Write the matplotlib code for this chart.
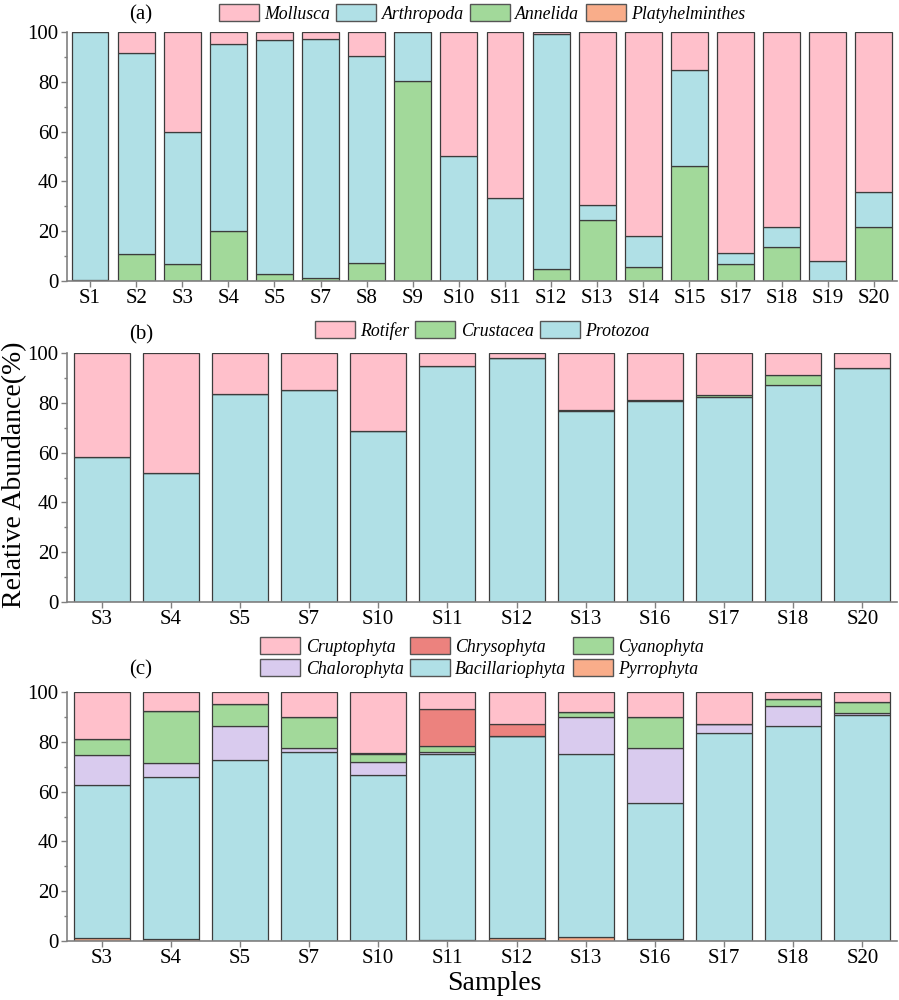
import matplotlib
matplotlib.use("Agg")
import matplotlib.pyplot as plt
import numpy as np
from matplotlib.ticker import MultipleLocator

plt.rcParams['font.family'] = ['Liberation Serif', 'DejaVu Serif']

# ---------------- data ----------------
samples_a = ["S1", "S2", "S3", "S4", "S5", "S7", "S8", "S9", "S10", "S11",
             "S12", "S13", "S14", "S15", "S17", "S18", "S19", "S20"]
platyhelminthes = [0.5, 0, 0, 0, 0, 0, 0, 0, 0, 0, 0, 0, 0, 0, 0, 0, 0, 0]
annelida = [0, 10.7, 6.7, 20.2, 2.7, 1.1, 7.1, 80.2, 0, 0,
            4.8, 24.4, 5.6, 46.3, 6.7, 13.7, 0, 21.6]
arthropoda = [99.5, 80.7, 53.0, 74.8, 94.2, 96.0, 83.4, 19.8, 50.1, 33.5,
              94.4, 6.0, 12.3, 38.3, 4.5, 8.0, 7.9, 14.1]
mollusca = [0, 8.6, 40.3, 5.0, 3.1, 2.9, 9.5, 0, 49.9, 66.5,
            0.8, 69.6, 82.1, 15.4, 88.8, 78.3, 92.1, 64.3]

samples_b = ["S3", "S4", "S5", "S7", "S10", "S11", "S12", "S13", "S16", "S17", "S18", "S20"]
protozoa = [58.1, 51.9, 83.4, 85.0, 68.8, 94.6, 98.1, 76.8, 80.7, 82.5, 87.3, 94.1]
crustacea = [0, 0, 0, 0, 0, 0, 0, 0.2, 0.4, 0.8, 3.9, 0]
rotifer = [41.9, 48.1, 16.6, 15.0, 31.2, 5.4, 1.9, 23.0, 18.9, 16.7, 8.8, 5.9]

samples_c = ["S3", "S4", "S5", "S7", "S10", "S11", "S12", "S13", "S16", "S17", "S18", "S20"]
pyrrophyta = [1.3, 0.7, 0.2, 0, 0, 0.3, 1.1, 1.7, 0.7, 0, 0, 0]
bacillariophyta = [61.2, 65.0, 72.5, 76.1, 66.5, 75.0, 81.2, 73.6, 54.9, 83.4, 86.5, 90.6]
chalorophyta = [12.2, 5.9, 13.5, 1.4, 5.2, 0.8, 0, 14.8, 22.1, 3.7, 8.0, 0.8]
cyanophyta = [6.5, 20.6, 8.8, 12.4, 3.2, 2.1, 0, 1.7, 12.4, 0, 2.7, 4.7]
chrysophyta = [0, 0, 0, 0, 0.7, 14.8, 4.7, 0, 0, 0, 0, 0]
cruptophyta = [18.8, 7.8, 5.0, 10.1, 24.4, 7.0, 13.0, 8.2, 9.9, 12.9, 2.8, 3.9]

# ---------------- style ----------------
PINK = '#FFC0CB'
BLUE = '#B0E0E6'
GREEN = '#A2D99A'
ORANGE = '#F9AD8A'
RED = '#EC827E'
LAV = '#D9CBEE'
EDGE = '#3c3c3c'
SPINE = '#808080'

fig = plt.figure(figsize=(8.99, 10.0), dpi=100)

L, W, H = 67 / 899, 830 / 899, 0.249
ax_a = fig.add_axes([L, 0.719, W, H])
ax_b = fig.add_axes([L, 0.398, W, H])
ax_c = fig.add_axes([L, 0.059, W, H])


def stacked(ax, cats, series, width):
    x = np.arange(len(cats))
    bottom = np.zeros(len(cats))
    handles = {}
    for name, vals, col in series:
        vals = np.asarray(vals, dtype=float)
        b = ax.bar(x, vals, width, bottom=bottom, color=col,
                   edgecolor=EDGE, linewidth=0.9, label=name, zorder=2)
        handles[name] = b
        bottom = bottom + vals
    ax.set_xticks(x)
    ax.set_xticklabels(cats)
    ax.set_xlim(-0.5, len(cats) - 0.5)
    ax.set_ylim(0, 100)
    ax.yaxis.set_major_locator(MultipleLocator(20))
    ax.yaxis.set_minor_locator(MultipleLocator(10))
    for s in ['top', 'right']:
        ax.spines[s].set_visible(False)
    for s in ['left', 'bottom']:
        ax.spines[s].set_color(SPINE)
        ax.spines[s].set_linewidth(1.2)
    ax.tick_params(axis='both', which='major', direction='out', length=4,
                   width=1.0, color=SPINE, labelsize=15, pad=2)
    ax.tick_params(axis='y', which='minor', direction='out', length=2.5,
                   width=1.0, color=SPINE)
    ax.tick_params(axis='x', which='minor', bottom=False)
    return handles


ha = stacked(ax_a, samples_a, [
    ("Platyhelminthes", platyhelminthes, ORANGE),
    ("Annelida", annelida, GREEN),
    ("Arthropoda", arthropoda, BLUE),
    ("Mollusca", mollusca, PINK),
], 0.8)

hb = stacked(ax_b, samples_b, [
    ("Protozoa", protozoa, BLUE),
    ("Crustacea", crustacea, GREEN),
    ("Rotifer", rotifer, PINK),
], 0.81)

hc = stacked(ax_c, samples_c, [
    ("Pyrrophyta", pyrrophyta, ORANGE),
    ("Bacillariophyta", bacillariophyta, BLUE),
    ("Chalorophyta", chalorophyta, LAV),
    ("Cyanophyta", cyanophyta, GREEN),
    ("Chrysophyta", chrysophyta, RED),
    ("Cruptophyta", cruptophyta, PINK),
], 0.81)

leg_kw = dict(frameon=False, loc='center', handlelength=2.25, handleheight=1.1,
              handletextpad=0.3, columnspacing=0.35, borderaxespad=0,
              labelspacing=0.2, prop={'style': 'italic', 'size': 12.8})


def add_legend(ax, handles, names, ncol, dy):
    leg = ax.legend([handles[n] for n in names], names, ncol=ncol,
                    bbox_to_anchor=(0.5, 1 + dy / 249.0), **leg_kw)
    for p in leg.get_patches():
        p.set_edgecolor('#555555')
        p.set_linewidth(1.0)
    return leg


add_legend(ax_a, ha, ["Mollusca", "Arthropoda", "Annelida", "Platyhelminthes"], 4, 18.5)
add_legend(ax_b, hb, ["Rotifer", "Crustacea", "Protozoa"], 3, 22.5)
add_legend(ax_c, hc, ["Cruptophyta", "Chalorophyta", "Chrysophyta",
                      "Bacillariophyta", "Cyanophyta", "Pyrrophyta"], 3, 34.5)

for ax, t, dy in [(ax_a, "(a)", 17), (ax_b, "(b)", 18), (ax_c, "(c)", 22)]:
    ax.text(0.089, 1 + dy / 249.0, t, transform=ax.transAxes,
            ha='center', va='center', fontsize=15)

fig.text(15 / 899, 1 - 475 / 1000, "Relative Abundance(%)", rotation=90,
         ha='center', va='center', fontsize=20)
fig.text(494 / 899, 1 - 983 / 1000, "Samples", ha='center', va='center', fontsize=20)

fig.savefig("out.png", dpi=100)
